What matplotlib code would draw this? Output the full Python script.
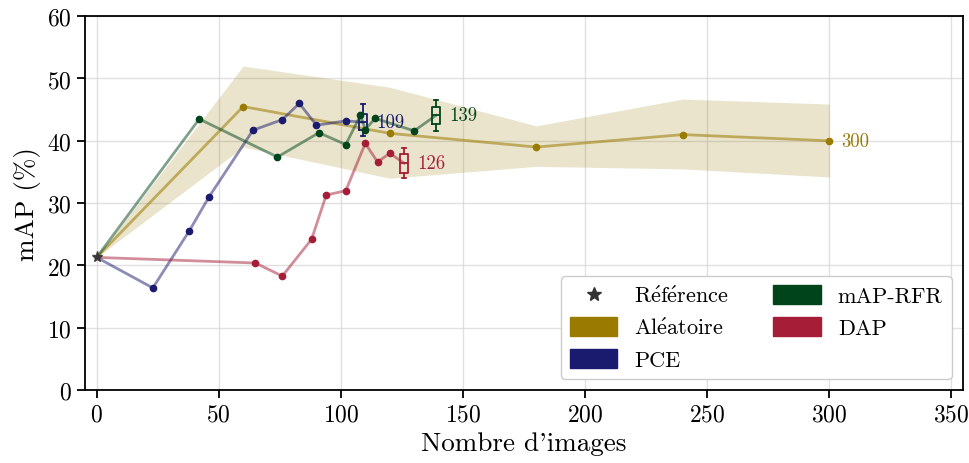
import numpy as np
import matplotlib
matplotlib.use("Agg")
import matplotlib.pyplot as plt
from matplotlib.patches import Patch
from matplotlib.lines import Line2D

plt.rcParams['font.family'] = ['cmr10', 'DejaVu Serif']
plt.rcParams['mathtext.fontset'] = 'cm'
plt.rcParams['axes.formatter.use_mathtext'] = True

# point de référence
ref_x, ref_y = 0, 21.3

# Aléatoire (moyenne + bande min/max)
alea_x = [0, 60, 120, 180, 240, 300]
alea_y = [21.3, 45.5, 41.2, 39.0, 41.0, 40.0]
alea_hi = [21.3, 52.0, 48.6, 42.4, 46.7, 45.9]
alea_lo = [21.3, 39.0, 34.0, 35.9, 35.5, 34.2]

# PCE
pce_x = [0, 23, 38, 46, 64, 76, 83, 90, 102]
pce_y = [21.3, 16.4, 25.6, 31.0, 41.7, 43.4, 46.0, 42.5, 43.2]
pce_box = dict(pos=109, med=43.0, q1=41.8, q3=44.3, lo=40.8, hi=45.9)

# mAP-RFR
rfr_x = [0, 42, 74, 91, 102, 108, 110, 114, 130]
rfr_y = [21.3, 43.5, 37.4, 41.3, 39.4, 44.1, 41.8, 43.6, 41.6]
rfr_box = dict(pos=139, med=44.1, q1=42.7, q3=45.5, lo=41.6, hi=46.6)

# DAP
dap_x = [0, 65, 76, 88, 94, 102, 110, 115, 120]
dap_y = [21.3, 20.4, 18.3, 24.2, 31.3, 32.0, 39.6, 36.6, 38.0]
dap_box = dict(pos=126, med=36.4, q1=34.9, q3=37.9, lo=34.0, hi=38.9)

c_alea = '#9a7b00'
c_pce = '#1a1a6e'
c_rfr = '#00441b'
c_dap = '#a51d36'

fig, ax = plt.subplots(figsize=(9.69, 4.64), dpi=100)
fig.subplots_adjust(left=0.0874, right=0.9935, top=0.963, bottom=0.157)

ax.grid(True, color='#d9d9d9', lw=1.0, alpha=0.8)
ax.set_axisbelow(True)

# bande aléatoire
ax.fill_between(alea_x, alea_lo, alea_hi, color=c_alea, alpha=0.2, lw=0)
ax.plot(alea_x, alea_y, color=c_alea, alpha=0.55, lw=2)
ax.plot(alea_x[1:], alea_y[1:], 'o', color=c_alea, ms=4.5)
ax.text(alea_x[-1] + 5, alea_y[-1], str(alea_x[-1]), color=c_alea,
        va='center', ha='left', fontsize=13.5)


def draw_series(xs, ys, box, color):
    ax.plot(xs + [box['pos']], ys + [box['med']], color=color, alpha=0.5, lw=2)
    ax.plot(xs[1:], ys[1:], 'o', color=color, ms=4.5)
    st = [dict(med=box['med'], q1=box['q1'], q3=box['q3'],
               whislo=box['lo'], whishi=box['hi'], fliers=[])]
    ax.bxp(st, positions=[box['pos']], widths=3.2, showfliers=False,
           boxprops=dict(color=color, lw=1.3),
           whiskerprops=dict(color=color, lw=1.3),
           capprops=dict(color=color, lw=1.3),
           medianprops=dict(color=color, lw=1.3),
           manage_ticks=False)
    ax.text(box['pos'] + 5.5, box['med'], str(box['pos']), color=color,
            va='center', ha='left', fontsize=13.5)


draw_series(pce_x, pce_y, pce_box, c_pce)
draw_series(rfr_x, rfr_y, rfr_box, c_rfr)
draw_series(dap_x, dap_y, dap_box, c_dap)

ax.plot([ref_x], [ref_y], '*', color='#333333', ms=8, alpha=0.85, zorder=5)

ax.set_xlim(-4.9, 354.6)
ax.set_ylim(0, 60)
ax.set_xticks(np.arange(0, 351, 50))
ax.set_yticks(np.arange(0, 61, 10))
ax.tick_params(labelsize=17, width=1.3, length=6)
for s in ax.spines.values():
    s.set_linewidth(1.3)
ax.set_xlabel("Nombre d'images", fontsize=19.5)
ax.set_ylabel("mAP (%)", fontsize=19.5)

handles = [
    Line2D([], [], marker='*', ls='none', color='#333333', ms=10),
    Patch(color=c_alea),
    Patch(color=c_pce),
    Patch(color=c_rfr),
    Patch(color=c_dap),
]
labels = [r'$\mathrm{R\acute{e}f\acute{e}rence}$',
          r'$\mathrm{Al\acute{e}atoire}$', 'PCE', 'mAP-RFR', 'DAP']
ax.legend(handles, labels, loc='lower right', ncol=2, fontsize=16,
          handlelength=2.15, handleheight=0.9, handletextpad=0.75,
          columnspacing=2.0, borderaxespad=0.5, framealpha=1.0,
          edgecolor='#cccccc')

fig.savefig('out.png', dpi=100)
